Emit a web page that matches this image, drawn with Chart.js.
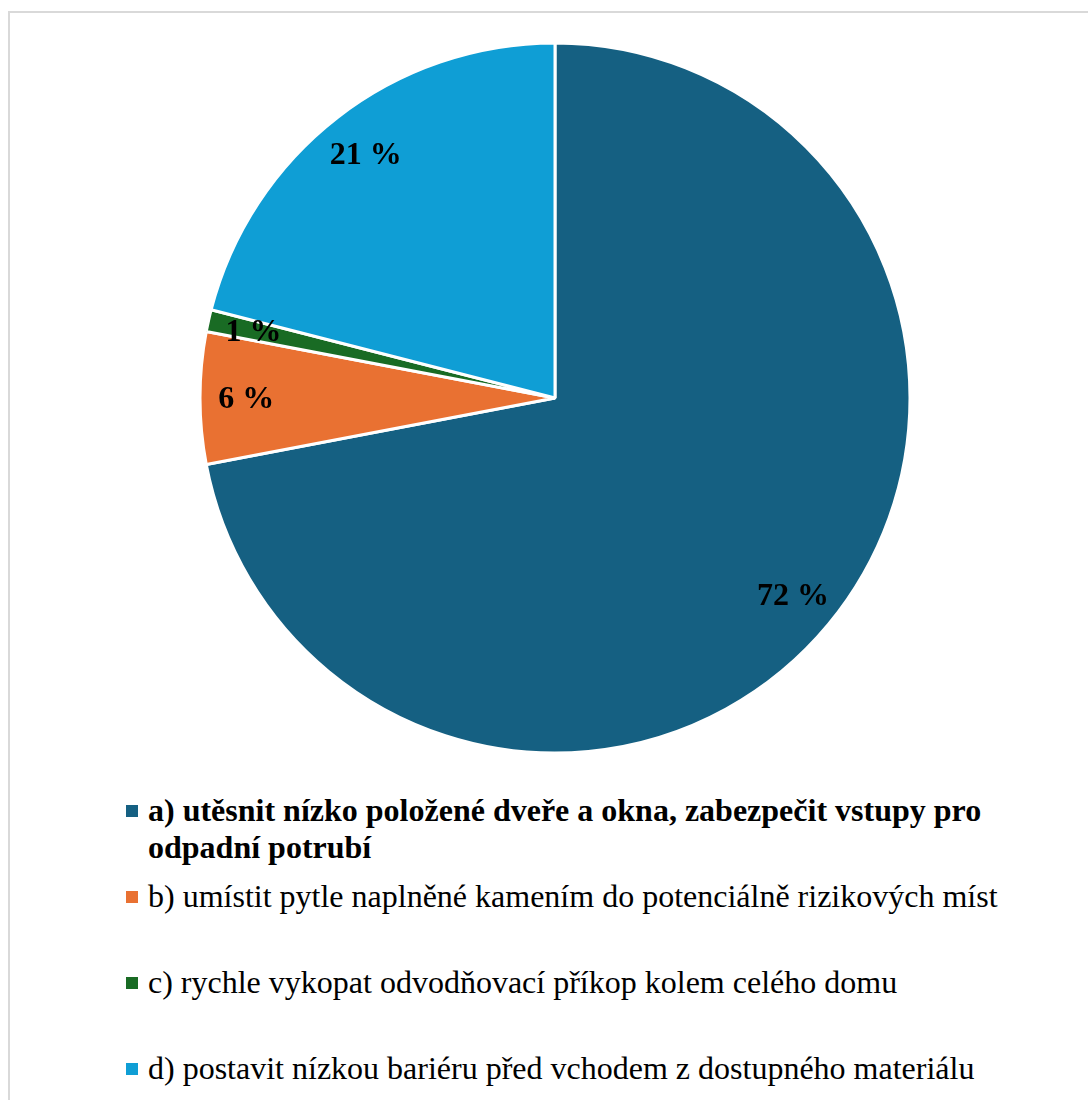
<!DOCTYPE html>
<html>
<head>
<meta charset="utf-8">
<script src="https://cdn.jsdelivr.net/npm/chart.js@4"></script>
<style>
  html, body { margin: 0; padding: 0; background: #fff; overflow: hidden; }
  body { width: 1088px; height: 1100px; position: relative; font-family: 'Liberation Serif', serif; }
  .frame {
    position: absolute; left: 8px; top: 11px; width: 1200px; height: 1200px;
    border-top: 2px solid #d9d9d9; border-left: 2px solid #d9d9d9; box-sizing: border-box;
  }
  .chart-box { position: absolute; left: 0; top: 0; width: 1088px; height: 780px; }
  #legend { position: absolute; left: 126px; top: 792px; width: 880px; }
  .item { display: flex; align-items: flex-start; height: 86px; }
  .swatch { width: 12px; height: 12px; flex: none; margin-top: 13px; margin-right: 10px; }
  .label { font-family: 'Liberation Serif', serif; font-size: 32px; line-height: 37px; color: #000; }
  .label.bold { font-weight: bold; }
</style>
</head>
<body>
<div class="frame"></div>
<div class="chart-box"><canvas id="pieChart" width="1088" height="780"></canvas></div>
<div id="legend"></div>
<script>
const labels = [
    'a) utěsnit nízko položené dveře a okna, zabezpečit vstupy pro odpadní potrubí',
    'b) umístit pytle naplněné kamením do potenciálně rizikových míst',
    'c) rychle vykopat odvodňovací příkop kolem celého domu',
    'd) postavit nízkou bariéru před vchodem z dostupného materiálu'
];
const shares = [72, 6, 1, 21]; // percent of answers
const colors = ['#156082', '#E97132', '#196B24', '#0F9ED5'];
const boldIndex = 0; // correct answer is set in bold

// percent labels near the outer edge of each slice
const sliceLabels = {
    id: 'sliceLabels',
    afterDatasetsDraw(chart) {
        const ctx = chart.ctx;
        const meta = chart.getDatasetMeta(0);
        ctx.save();
        ctx.font = "bold 32px 'Liberation Serif', serif";
        ctx.fillStyle = '#000';
        ctx.textAlign = 'center';
        ctx.textBaseline = 'middle';
        meta.data.forEach((arc, i) => {
            const { x, y, startAngle, endAngle, outerRadius } = arc.getProps(['x', 'y', 'startAngle', 'endAngle', 'outerRadius'], true);
            const mid = (startAngle + endAngle) / 2;
            const r = outerRadius * 0.87;
            ctx.fillText(shares[i] + ' %', x + Math.cos(mid) * r, y + Math.sin(mid) * r + 2);
        });
        ctx.restore();
    }
};

const ctxPie = document.getElementById('pieChart').getContext('2d');

const pieChart = new Chart(ctxPie, {
    type: 'pie',
    data: {
        labels: labels,
        datasets: [{
            data: shares,
            backgroundColor: colors,
            borderColor: '#fff',
            borderWidth: 3
        }]
    },
    options: {
        responsive: false,
        animation: false,
        radius: 355,
        layout: { padding: { left: 22, top: 16, right: 0, bottom: 0 } },
        plugins: {
            legend: { display: false },
            tooltip: { enabled: false }
        }
    },
    plugins: [sliceLabels]
});

// legend below the pie
const legendEl = document.getElementById('legend');
labels.forEach((text, i) => {
    const item = document.createElement('div');
    item.className = 'item';
    const sw = document.createElement('span');
    sw.className = 'swatch';
    sw.style.background = colors[i];
    const lb = document.createElement('span');
    lb.className = 'label' + (i === boldIndex ? ' bold' : '');
    lb.textContent = text;
    item.appendChild(sw);
    item.appendChild(lb);
    legendEl.appendChild(item);
});
</script>
</body>
</html>
